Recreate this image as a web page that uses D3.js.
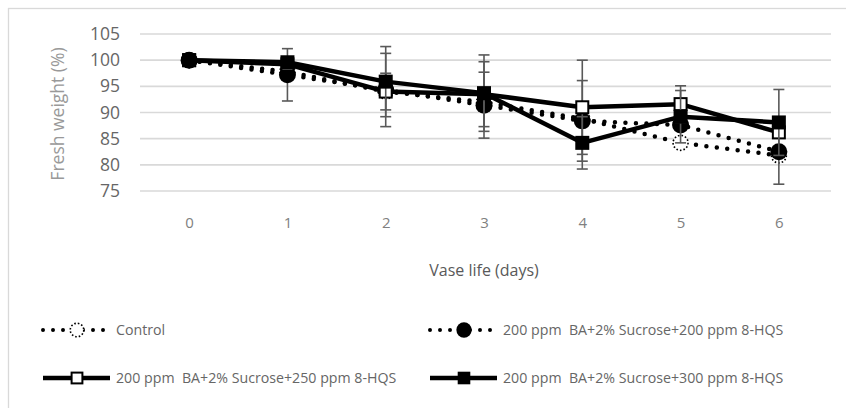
<!DOCTYPE html>
<html>
<head>
<meta charset="utf-8">
<script src="https://cdn.jsdelivr.net/npm/d3@7"></script>
<style>
  body { margin: 0; background: #fff; }
  text { font-family: "Open Sans", sans-serif; white-space: pre; }
</style>
</head>
<body>
<div id="chart"></div>
<script>
// data
var days = [0, 1, 2, 3, 4, 5, 6];
var yTicks = [75, 80, 85, 90, 95, 100, 105];

var names = ["Control",
  "200 ppm  BA+2% Sucrose+200 ppm 8-HQS",
  "200 ppm  BA+2% Sucrose+250 ppm 8-HQS",
  "200 ppm  BA+2% Sucrose+300 ppm 8-HQS"];

var control  = [100, 97.8, 94.0, 92.0, 88.8, 84.2, 81.8];
var hqs200   = [100, 97.2, 94.3, 91.4, 88.4, 87.6, 82.5];
var hqs250   = [100, 99.2, 94.0, 93.5, 91.0, 91.6, 86.2];
var hqs300   = [100, 99.6, 95.9, 93.7, 84.2, 89.2, 88.1];

var errControl = [0, 0, 0, 0, 0, 0, 0];
var err200     = [0, 5.0, 7.0, 6.3, 7.7, 0, 6.2];
var err250     = [0, 0, 3.5, 6.2, 9.0, 3.5, 0];
var err300     = [0, 0, 6.7, 7.3, 5.0, 5.0, 6.3];

var series = [
  { name: names[0], vals: control, err: errControl, line: "dot", mark: "dashcircle" },
  { name: names[1], vals: hqs200, err: err200, line: "dot", mark: "circle" },
  { name: names[2], vals: hqs250, err: err250, line: "solid", mark: "opensquare" },
  { name: names[3], vals: hqs300, err: err300, line: "solid", mark: "square" }
];

var W = 846, H = 408;
var svg = d3.select("#chart").append("svg")
  .attr("width", W).attr("height", H);

// chart frame
svg.append("rect")
  .attr("x", 8.5).attr("y", 8.5)
  .attr("width", W).attr("height", H)
  .attr("fill", "#fff").attr("stroke", "#d9d9d9").attr("stroke-width", 1.3);

var x = d3.scalePoint().domain(days).range([140, 828]).padding(0.5);
var y = d3.scaleLinear().domain([75, 105]).range([191, 34]);

// gridlines
svg.append("g").selectAll("line").data(yTicks).enter().append("line")
  .attr("x1", 140).attr("x2", 831)
  .attr("y1", function(d) { return y(d); })
  .attr("y2", function(d) { return y(d); })
  .attr("stroke", "#d9d9d9").attr("stroke-width", 1.6);

// y axis labels
var yAxis = svg.append("g").attr("transform", "translate(129,0)")
  .call(d3.axisLeft(y).tickValues(yTicks).tickSize(0).tickPadding(9));
yAxis.select(".domain").remove();
yAxis.selectAll("text").attr("font-size", 17.5).attr("fill", "#666")
  .style("font-family", "'Open Sans', sans-serif");

// x axis labels
var xAxis = svg.append("g").attr("transform", "translate(0,217)")
  .call(d3.axisBottom(x).tickSize(0).tickPadding(0));
xAxis.select(".domain").remove();
xAxis.selectAll("text").attr("font-size", 15).attr("fill", "#808080")
  .style("font-family", "'Open Sans', sans-serif");

svg.append("text")
  .attr("x", 484).attr("y", 276)
  .attr("text-anchor", "middle")
  .attr("font-size", 16).attr("fill", "#595959")
  .text("Vase life (days)");

svg.append("text")
  .attr("transform", "translate(64,114) rotate(-90)")
  .attr("text-anchor", "middle")
  .attr("font-size", 17.5).attr("fill", "#999")
  .text("Fresh weight (%)");

// lines
var line = d3.line()
  .x(function(d, i) { return x(days[i]); })
  .y(function(d) { return y(d); });

function styleLine(sel, s) {
  if (s.line == "dot") {
    sel.attr("stroke", "#000").attr("stroke-width", 4.5)
      .attr("stroke-dasharray", "0 10.5").attr("stroke-linecap", "round");
  } else {
    sel.attr("stroke", "#000").attr("stroke-width", 4.5)
      .attr("stroke-linejoin", "round");
  }
  return sel;
}

function drawMark(g, s, cx, cy, big) {
  var k = big ? 1 : 0.9;
  if (s.mark == "dashcircle") {
    g.append("circle").attr("cx", cx).attr("cy", cy).attr("r", 7.5 * k)
      .attr("fill", "#fff").attr("stroke", "#000").attr("stroke-width", 1.6)
      .attr("stroke-dasharray", "1.6 2");
  } else if (s.mark == "circle") {
    g.append("circle").attr("cx", cx).attr("cy", cy).attr("r", 8.5 * k)
      .attr("fill", "#000");
  } else if (s.mark == "opensquare") {
    var a = 12 * k;
    g.append("rect").attr("x", cx - a / 2).attr("y", cy - a / 2)
      .attr("width", a).attr("height", a)
      .attr("fill", "#fff").attr("stroke", "#000").attr("stroke-width", 2);
  } else {
    var b = 14 * k;
    g.append("rect").attr("x", cx - b / 2).attr("y", cy - b / 2)
      .attr("width", b).attr("height", b).attr("fill", "#000");
  }
}

series.forEach(function(s) {
  var g = svg.append("g");
  styleLine(g.append("path").datum(s.vals).attr("d", line).attr("fill", "none"), s);

  // error bars
  s.vals.forEach(function(v, i) {
    var e = s.err[i];
    if (!e) return;
    var cx = x(days[i]);
    g.append("line").attr("x1", cx).attr("x2", cx)
      .attr("y1", y(v + e)).attr("y2", y(v - e))
      .attr("stroke", "#595959").attr("stroke-width", 1.6);
    [v + e, v - e].forEach(function(t) {
      g.append("line").attr("x1", cx - 5.5).attr("x2", cx + 5.5)
        .attr("y1", y(t)).attr("y2", y(t))
        .attr("stroke", "#595959").attr("stroke-width", 1.6);
    });
  });

  s.vals.forEach(function(v, i) {
    drawMark(g, s, x(days[i]), y(v), true);
  });
});

// legend
var legPos = [[43, 330], [430, 330], [43, 378], [430, 378]];
series.forEach(function(s, i) {
  var lx = legPos[i][0], ly = legPos[i][1];
  var g = svg.append("g");
  var p = g.append("line").attr("x1", lx).attr("x2", lx + 67)
    .attr("y1", ly).attr("y2", ly);
  styleLine(p, s);
  if (s.line == "dot") p.attr("stroke-dasharray", "0 10").attr("stroke-width", 4);
  drawMark(g, s, lx + 34, ly, false);
  g.append("text").attr("x", lx + 73).attr("y", ly + 5)
    .attr("font-size", 14.2).attr("fill", "#666")
    .text(s.name);
});
</script>
</body>
</html>
